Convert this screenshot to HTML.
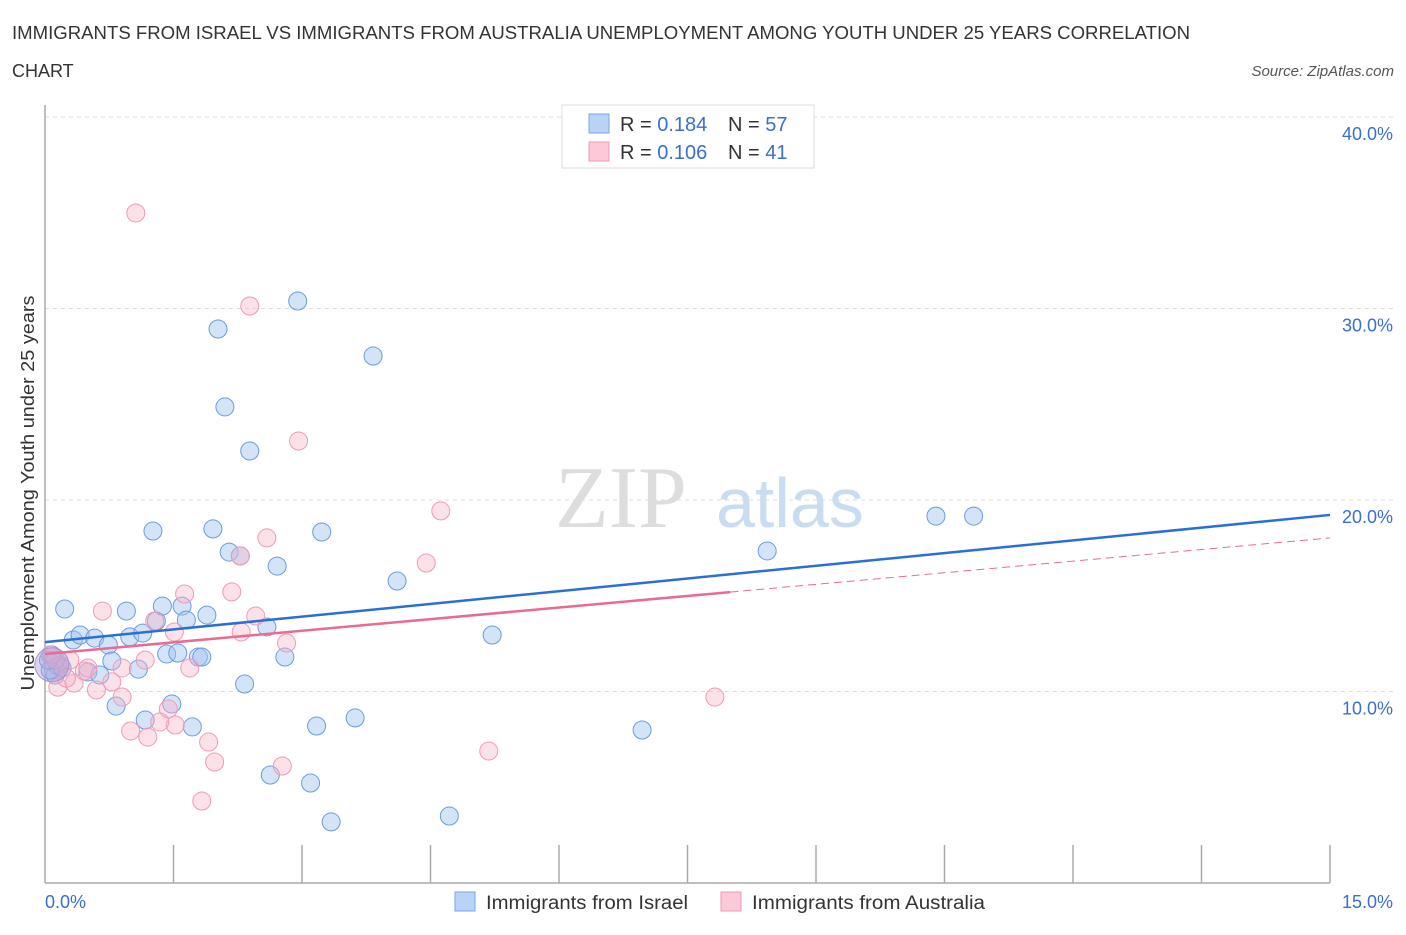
<!DOCTYPE html>
<html><head><meta charset="utf-8"><style>
body{margin:0;background:#fff;font-family:"Liberation Sans",sans-serif;}
svg text{font-family:"Liberation Sans",sans-serif;}
</style></head><body>
<svg id="chart" width="1406" height="930" xmlns="http://www.w3.org/2000/svg">
<text x="12" y="39" font-size="18" fill="#333" textLength="1178" lengthAdjust="spacingAndGlyphs">IMMIGRANTS FROM ISRAEL VS IMMIGRANTS FROM AUSTRALIA UNEMPLOYMENT AMONG YOUTH UNDER 25 YEARS CORRELATION</text>
<text x="12" y="77" font-size="18" fill="#333">CHART</text>
<text x="1394" y="76" font-size="15" fill="#555" text-anchor="end" font-style="italic">Source: ZipAtlas.com</text>
<g id="grid"></g>
<text x="555" y="527" font-size="88" fill="#ddd" style="font-family:'Liberation Serif',serif">ZIP</text>
<text x="716" y="527" font-size="70" fill="#c9dcf2">atlas</text>
<g id="axes"></g>
<g id="pts"></g>
<g id="trends"></g>
<text transform="translate(34,493) rotate(-90)" font-size="18" fill="#333" text-anchor="middle" textLength="395" lengthAdjust="spacingAndGlyphs">Unemployment Among Youth under 25 years</text>
<g>
<rect x="562" y="105" width="252" height="63" fill="#fff" stroke="#ddd"/>
<rect x="589" y="114" width="20" height="19" fill="#b9d3f7" stroke="#7aa6e6"/>
<rect x="589" y="142" width="20" height="19" fill="#fbc9d8" stroke="#ef9ab5"/>
<text x="620" y="131" font-size="20" fill="#333">R = <tspan fill="#3a6fd0">0.184</tspan></text>
<text x="728" y="131" font-size="20" fill="#333">N = <tspan fill="#3a6fd0">57</tspan></text>
<text x="620" y="159" font-size="20" fill="#333">R = <tspan fill="#3a6fd0">0.106</tspan></text>
<text x="728" y="159" font-size="20" fill="#333">N = <tspan fill="#3a6fd0"> 41</tspan></text>
</g>
<g>
<rect x="455" y="892" width="20" height="19" fill="#b9d3f7" stroke="#7aa6e6"/>
<text x="486" y="909" font-size="19" fill="#333" textLength="202" lengthAdjust="spacingAndGlyphs">Immigrants from Israel</text>
<rect x="721" y="892" width="20" height="19" fill="#fbc9d8" stroke="#ef9ab5"/>
<text x="752" y="909" font-size="19" fill="#333" textLength="233" lengthAdjust="spacingAndGlyphs">Immigrants from Australia</text>
</g>
</svg>
<script>
const xTickLabels=["0.0%","15.0%"];
const yTicks=[10,20,30,40];
const yTickLabels=["10.0%","20.0%","30.0%","40.0%"];
const israelX=[.23,.33,.41,.58,.15,.12,.20,.50,.64,.74,.78,.95,.99,1.14,1.09,.83,1.17,1.26,1.30,1.37,1.42,1.48,1.55,1.60,1.65,1.72,1.79,1.83,1.89,1.96,2.02,2.10,2.15,2.28,2.33,2.39,2.59,2.63,2.71,2.80,2.95,3.10,3.17,3.23,3.34,3.62,3.83,4.11,4.72,5.22,6.97,8.43,10.40,10.84,.06,.04,.08];
const israelY=[14.31,12.69,12.95,12.79,11.33,10.86,11.23,11.02,10.86,12.43,11.59,14.20,12.85,13.05,11.17,9.24,8.51,18.38,13.68,14.46,11.96,9.35,12.01,14.46,13.73,8.15,11.80,11.80,13.99,18.49,28.93,24.86,17.28,17.08,10.39,22.56,13.37,5.64,16.55,11.80,30.39,5.22,8.20,18.33,3.19,8.62,27.52,15.77,3.50,12.95,7.99,17.34,19.16,19.16,11.12,11.64,11.91];
const ausX=[1.06,2.39,2.96,4.62,4.45,2.59,2.28,2.18,1.63,.67,2.46,1.28,1.51,2.29,2.82,.06,.18,.34,.46,.78,.90,.60,.15,.25,.90,1.17,1.69,1.44,1.52,1.34,1.00,1.20,1.91,1.98,2.77,1.83,5.18,7.82,.50,.29,.12];
const ausY=[34.99,30.13,23.08,19.43,16.71,18.02,17.08,15.20,15.09,14.20,13.94,13.68,13.11,13.11,12.53,11.91,11.38,10.44,11.07,10.50,9.71,10.08,10.23,10.70,11.23,11.64,11.23,9.09,8.25,8.41,7.94,7.62,7.36,6.32,6.11,4.28,6.89,9.71,11.23,11.64,11.64];
const israelTrend=[12.58,19.22];
const ausTrend=[11.96,18.02];
const ausSolidEnd=8.0;

const NS="http://www.w3.org/2000/svg";
const X0=45,X1=1330,Y0=883,PY=19.15;
const sx=v=>X0+(v/15)*(X1-X0);
const sy=v=>Y0-v*PY;
function mk(tag,attrs,parent){const e=document.createElementNS(NS,tag);for(const k in attrs)e.setAttribute(k,attrs[k]);document.getElementById(parent).appendChild(e);return e;}
yTicks.forEach((t,i)=>{
 const g=mk('line',{x1:X0,x2:1393,y1:sy(t),y2:sy(t),stroke:'#ddd','stroke-dasharray':'4,4'},'grid');
 
 
 const l=mk('text',{x:1393,y:sy(t)+23,'font-size':18,fill:'#3a6fd0','text-anchor':'end'},'grid');
 l.textContent=yTickLabels[i];
 
 
});
const ax=mk('line',{x1:X0,x2:X1,y1:Y0,y2:Y0,stroke:'#aaa','stroke-width':1.5},'axes');


const ay=mk('line',{x1:X0,x2:X0,y1:105,y2:Y0,stroke:'#aaa','stroke-width':1.5},'axes');


for(let i=1;i<=10;i++){const t=mk('line',{x1:sx(i*1.5),x2:sx(i*1.5),y1:845,y2:Y0,stroke:'#aaa','stroke-width':1.5},'axes');
 
 }
const xl0=mk('text',{x:X0,y:908,'font-size':18,fill:'#3a6fd0'},'axes');xl0.textContent=xTickLabels[0];


const xl1=mk('text',{x:1393,y:908,'font-size':18,fill:'#3a6fd0','text-anchor':'end'},'axes');xl1.textContent=xTickLabels[1];


israelX.forEach((x,i)=>{const c=mk('circle',{cx:sx(x),cy:sy(israelY[i]),r:9,fill:'rgba(160,195,240,0.45)',stroke:'#6a9be0','stroke-width':1},'pts');
 
 });
ausX.forEach((x,i)=>{const c=mk('circle',{cx:sx(x),cy:sy(ausY[i]),r:9,fill:'rgba(248,180,200,0.4)',stroke:'#ef9ab5','stroke-width':1},'pts');
 
 });
const big=mk('circle',{cx:sx(0.08),cy:sy(11.4),r:17,fill:'rgba(170,160,220,0.45)',stroke:'#a98fd0'},'pts');


const bt=mk('line',{x1:sx(0),y1:sy(israelTrend[0]),x2:sx(15),y2:sy(israelTrend[1]),stroke:'#2a6fd6','stroke-width':2.5},'trends');


const pm=v=>ausTrend[0]+(ausTrend[1]-ausTrend[0])*v/15;
const pt=mk('line',{x1:sx(0),y1:sy(ausTrend[0]),x2:sx(ausSolidEnd),y2:sy(pm(ausSolidEnd)),stroke:'#e86a95','stroke-width':2.5},'trends');


const pd=mk('line',{x1:sx(ausSolidEnd),y1:sy(pm(ausSolidEnd)),x2:sx(15),y2:sy(ausTrend[1]),stroke:'#e86a95','stroke-width':1,'stroke-dasharray':'8,5'},'trends');


</script>
</body></html>
